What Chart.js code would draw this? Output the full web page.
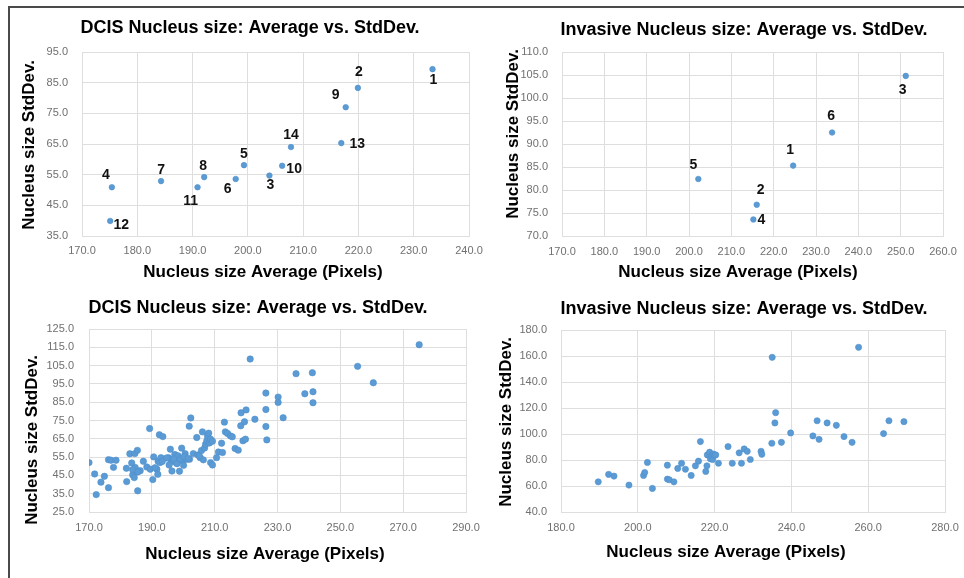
<!DOCTYPE html>
<html>
<head>
<meta charset="utf-8">
<title>Nucleus size: Average vs. StdDev.</title>
<script src="https://cdn.jsdelivr.net/npm/chart.js@4.4.1/dist/chart.umd.min.js"></script>
<style>
  html, body { margin: 0; padding: 0; background: #fff; overflow: hidden; }
  #sheet { position: relative; width: 964px; height: 578px; overflow: hidden; }
  #frame { position: absolute; left: 8px; top: 6px; width: 954px; height: 570px;
           border-top: 2px solid #4a4a4a; border-left: 2px solid #4a4a4a; }
  .panel { position: absolute; width: 500px; height: 289px; }
  .panel canvas { display: block; }
</style>
</head>
<body>
<div id="sheet">
  <div id="frame"></div>
  <div class="panel" style="left:0;top:0"><canvas id="dcisSample" width="500" height="289"></canvas></div>
  <div class="panel" style="left:482px;top:0"><canvas id="invSample" width="500" height="289"></canvas></div>
  <div class="panel" style="left:0;top:289px"><canvas id="dcisAll" width="500" height="289"></canvas></div>
  <div class="panel" style="left:482px;top:289px"><canvas id="invAll" width="500" height="289"></canvas></div>
</div>
<script>
// ---- DCIS, one point per case (numbered) ----
const dcisSampleIds = [1, 2, 3, 4, 5, 6, 7, 8, 9, 10, 11, 12, 13, 14];
const dcisSampleAvg = [233.4, 219.9, 203.9, 175.4, 199.3, 197.8, 184.3, 192.1, 217.7, 206.2, 190.9, 175.1, 216.9, 207.8];
const dcisSampleStd = [89.4, 83.3, 54.7, 50.9, 58.1, 53.6, 52.9, 54.2, 77.0, 57.9, 50.9, 39.9, 65.3, 64.0];

// ---- Invasive, one point per case (numbered) ----
const invSampleIds = [1, 2, 3, 4, 5, 6];
const invSampleAvg = [224.6, 216.0, 251.2, 215.2, 202.2, 233.8];
const invSampleStd = [85.3, 76.8, 104.8, 73.6, 82.4, 92.5];

// ---- DCIS, all measured regions ----
const dcisAllAvg = [
  170.0, 171.8, 172.3, 173.8, 174.9, 176.2, 176.2, 177.0, 177.8, 178.6,
  181.9, 182.0, 183.0, 183.6, 183.9, 184.4, 184.6, 184.7, 185.4, 185.4,
  185.5, 186.3, 187.3, 188.4, 189.3, 189.5, 190.3, 190.6, 191.6, 191.9,
  192.0, 192.4, 192.6, 192.9, 193.5, 193.3, 195.3, 195.9, 196.1, 196.4,
  196.8, 197.3, 197.7, 198.3, 198.8, 199.5, 199.8, 200.1, 200.6, 201.1,
  201.9, 202.4, 202.0, 203.2, 204.3, 204.7, 205.4, 205.8, 206.1, 206.4,
  206.8, 207.1, 207.5, 207.7, 208.1, 208.3, 208.7, 208.7, 209.3, 209.3,
  210.6, 211.2, 212.2, 212.5, 213.1, 213.4, 214.1, 215.0, 215.6, 216.5,
  217.5, 218.3, 218.4, 219.0, 219.5, 219.8, 220.0, 221.3, 222.8, 226.3,
  226.3, 226.3, 226.6, 230.2, 230.2, 231.8, 235.9, 238.7, 241.1, 241.3,
  241.3, 255.5, 260.5, 275.1, 183.9, 185.6, 191.0, 194.7, 195.5, 197.0,
  198.0, 199.1, 200.3, 201.6, 205.1
];
const dcisAllStd = [
  52.0, 45.8, 34.5, 41.3, 44.5, 38.3, 53.6, 53.3, 49.4, 53.3,
  48.9, 41.6, 56.8, 51.8, 45.3, 43.8, 56.9, 49.3, 58.7, 46.9,
  36.6, 47.6, 52.7, 49.6, 70.6, 48.4, 42.7, 55.1, 48.4, 45.6,
  52.7, 67.2, 52.0, 54.7, 66.2, 52.6, 54.7, 59.3, 53.3, 47.4,
  52.7, 56.4, 52.0, 55.7, 47.3, 59.9, 52.9, 50.5, 56.9, 53.8,
  71.9, 76.4, 53.8, 56.9, 65.7, 56.2, 54.7, 58.6, 68.8, 53.5,
  60.0, 62.0, 63.9, 66.6, 68.1, 62.7, 64.8, 52.0, 50.7, 63.7,
  54.7, 57.8, 62.6, 57.5, 74.1, 68.8, 67.9, 66.6, 66.1, 59.7,
  58.8, 72.1, 79.2, 63.9, 74.3, 64.8, 80.8, 108.6, 75.7, 90.0,
  81.0, 71.7, 64.4, 87.8, 84.9, 76.5, 100.6, 89.6, 101.1, 90.7,
  84.7, 104.6, 95.6, 116.4, 48.1, 47.0, 49.2, 54.5, 50.7, 54.0,
  51.4, 54.0, 55.2, 54.3, 55.6
];

// ---- Invasive, all measured regions ----
const invAllAvg = [
  189.7, 192.4, 193.8, 197.7, 201.5, 201.8, 202.5, 203.8, 207.7, 207.7,
  208.2, 209.4, 210.4, 211.4, 212.4, 213.9, 215.0, 215.8, 216.3, 217.7,
  218.0, 218.1, 218.7, 218.9, 219.3, 219.5, 219.7, 219.9, 220.3, 221.0,
  223.5, 224.6, 226.4, 227.0, 227.7, 228.5, 229.3, 232.1, 232.3, 234.9,
  235.0, 235.7, 235.9, 237.4, 239.8, 245.6, 246.7, 247.2, 249.3, 251.7,
  253.7, 255.8, 257.5, 264.0, 265.4, 269.3
];
const invAllStd = [
  63.2, 68.9, 67.6, 60.7, 68.1, 70.4, 78.1, 58.1, 76.0, 65.3,
  64.8, 63.2, 73.5, 77.5, 72.9, 68.1, 75.5, 79.1, 94.2, 71.2,
  75.5, 83.9, 86.0, 80.9, 83.4, 80.4, 84.6, 83.4, 83.9, 77.5,
  90.3, 77.5, 85.5, 77.5, 88.5, 86.7, 80.4, 86.7, 84.4, 92.9,
  159.0, 108.5, 116.4, 93.6, 100.8, 98.5, 110.2, 95.9, 108.5, 106.7,
  98.0, 93.6, 166.7, 100.3, 110.2, 109.5
];

// ---- axis ticks ----
const dcisSampleXTicks = [170, 180, 190, 200, 210, 220, 230, 240];
const dcisSampleYTicks = [35, 45, 55, 65, 75, 85, 95];
const invSampleXTicks = [170, 180, 190, 200, 210, 220, 230, 240, 250, 260];
const invSampleYTicks = [70, 75, 80, 85, 90, 95, 100, 105, 110];
const dcisAllXTicks = [170, 190, 210, 230, 250, 270, 290];
const dcisAllYTicks = [25, 35, 45, 55, 65, 75, 85, 95, 105, 115, 125];
const invAllXTicks = [180, 200, 220, 240, 260, 280];
const invAllYTicks = [40, 60, 80, 100, 120, 140, 160, 180];

// ---- text ----
const dcisTitle = 'DCIS Nucleus size: Average vs. StdDev.';
const invTitle = 'Invasive Nucleus size: Average vs. StdDev.';
const xAxisTitle = 'Nucleus size Average (Pixels)';
const yAxisTitle = 'Nucleus size StdDev.';

// where each case number sits relative to its point (px)
const dcisTagOffset = [[1, 11], [1, -16], [1, 10], [-6, -12], [0, -11], [-8, 10], [0, -11],
                       [-1, -11], [-10, -12], [12, 3], [-7, 14], [11, 4], [16, 1], [0, -12]];
const invTagOffset = [[-3, -15], [4, -15], [-3, 14], [8, 1], [-5, -14], [-1, -16]];

const FONT = '"Liberation Sans", Arial, Helvetica, sans-serif';
const CANVAS_W = 500;
Chart.defaults.font.family = FONT;

// Chart heading plus both axis titles, placed freely on the panel
const panelText = {
  id: 'panelText',
  afterDraw(chart, args, o) {
    const ctx = chart.ctx;
    ctx.save();
    ctx.fillStyle = '#000';
    ctx.textAlign = 'center';
    ctx.textBaseline = 'middle';
    ctx.font = 'bold 18px ' + FONT;
    ctx.fillText(o.title, o.titleAt[0], o.titleAt[1]);
    ctx.font = 'bold 17px ' + FONT;
    ctx.fillText(o.xTitle, o.xTitleAt[0], o.xTitleAt[1]);
    ctx.translate(o.yTitleAt[0], o.yTitleAt[1]);
    ctx.rotate(-Math.PI / 2);
    ctx.fillText(o.yTitle, 0, 0);
    ctx.restore();
  }
};

// Case numbers next to the points
const pointTags = {
  id: 'pointTags',
  afterDatasetsDraw(chart, args, o) {
    if (!o.ids) return;
    const ctx = chart.ctx;
    const meta = chart.getDatasetMeta(0);
    ctx.save();
    ctx.fillStyle = '#111';
    ctx.font = 'bold 14px ' + FONT;
    ctx.textAlign = 'center';
    ctx.textBaseline = 'middle';
    meta.data.forEach((pt, i) => {
      const off = o.offsets[i];
      ctx.fillText(String(o.ids[i]), pt.x + off[0], pt.y + off[1]);
    });
    ctx.restore();
  }
};

function panel(id, p) {
  const points = p.avg.map((v, i) => ({ x: v, y: p.std[i] }));
  const tickFont = { size: 11, family: FONT };
  const gridColor = '#dedede';
  const fmt = v => Number(v).toFixed(1);
  new Chart(document.getElementById(id), {
    type: 'scatter',
    data: {
      datasets: [{
        data: points,
        backgroundColor: '#5b9bd5',
        borderColor: '#4e8ecb',
        borderWidth: 0.6,
        pointRadius: p.radius,
        pointHoverRadius: p.radius
      }]
    },
    options: {
      responsive: false,
      animation: false,
      events: [],
      layout: { padding: { left: 0, top: p.area.top, right: CANVAS_W - p.area.right, bottom: 0 } },
      plugins: {
        legend: { display: false },
        tooltip: { enabled: false },
        title: { display: false },
        panelText: {
          title: p.title, titleAt: p.titleAt,
          xTitle: xAxisTitle, xTitleAt: p.xTitleAt,
          yTitle: yAxisTitle, yTitleAt: p.yTitleAt
        },
        pointTags: { ids: p.ids, offsets: p.tagOffset }
      },
      scales: {
        x: {
          type: 'linear',
          min: p.xTicks[0],
          max: p.xTicks[p.xTicks.length - 1],
          afterBuildTicks: s => { s.ticks = p.xTicks.map(v => ({ value: v })); },
          ticks: { callback: fmt, font: tickFont, color: '#707070', padding: p.xPad, maxRotation: 0, autoSkip: false },
          grid: { color: gridColor, drawTicks: false },
          border: { color: gridColor },
          afterFit: s => { s.height = 289 - p.area.bottom; s.paddingLeft = 0; s.paddingRight = 0; }
        },
        y: {
          type: 'linear',
          min: p.yTicks[0],
          max: p.yTicks[p.yTicks.length - 1],
          afterBuildTicks: s => { s.ticks = p.yTicks.map(v => ({ value: v })); },
          ticks: { callback: fmt, font: tickFont, color: '#707070', padding: p.yPad, autoSkip: false },
          grid: { color: gridColor, drawTicks: false },
          border: { color: gridColor },
          afterFit: s => { s.width = p.area.left; s.paddingTop = 0; s.paddingBottom = 0; }
        }
      }
    },
    plugins: [panelText, pointTags]
  });
}

panel('dcisSample', {
  avg: dcisSampleAvg, std: dcisSampleStd, ids: dcisSampleIds, tagOffset: dcisTagOffset,
  xTicks: dcisSampleXTicks, yTicks: dcisSampleYTicks, title: dcisTitle,
  area: { left: 82, right: 469, top: 52, bottom: 236 }, radius: 2.8, xPad: 8, yPad: 14,
  titleAt: [250, 28], xTitleAt: [263, 272], yTitleAt: [29, 145]
});
panel('invSample', {
  avg: invSampleAvg, std: invSampleStd, ids: invSampleIds, tagOffset: invTagOffset,
  xTicks: invSampleXTicks, yTicks: invSampleYTicks, title: invTitle,
  area: { left: 80, right: 461, top: 52, bottom: 236 }, radius: 2.8, xPad: 9, yPad: 14,
  titleAt: [262, 30], xTitleAt: [256, 272], yTitleAt: [31, 134]
});
panel('dcisAll', {
  avg: dcisAllAvg, std: dcisAllStd,
  xTicks: dcisAllXTicks, yTicks: dcisAllYTicks, title: dcisTitle,
  area: { left: 89, right: 466, top: 40, bottom: 223 }, radius: 3.2, xPad: 9, yPad: 15,
  titleAt: [258, 19], xTitleAt: [265, 265], yTitleAt: [32, 151]
});
panel('invAll', {
  avg: invAllAvg, std: invAllStd,
  xTicks: invAllXTicks, yTicks: invAllYTicks, title: invTitle,
  area: { left: 79, right: 463, top: 41, bottom: 223 }, radius: 3.1, xPad: 9, yPad: 14,
  titleAt: [262, 20], xTitleAt: [244, 263], yTitleAt: [24, 133]
});
</script>
</body>
</html>
